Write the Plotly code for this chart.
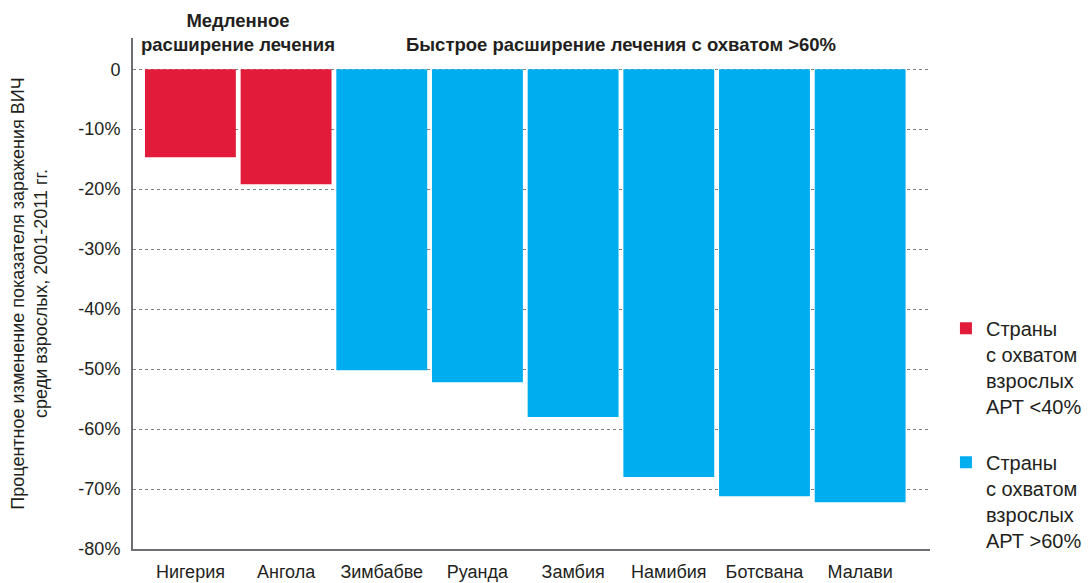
import plotly.graph_objects as go

# data
countries = ["Нигерия", "Ангола", "Зимбабве", "Руанда",
             "Замбия", "Намибия", "Ботсвана", "Малави"]
slow_countries = countries[:2]
slow_values = [-14.7, -19.2]
fast_countries = countries[2:]
fast_values = [-50.2, -52.2, -58.0, -68.0, -71.2, -72.2]
y_ticks = [0, -10, -20, -30, -40, -50, -60, -70, -80]
y_tick_labels = ["0", "-10%", "-20%", "-30%", "-40%",
                 "-50%", "-60%", "-70%", "-80%"]

RED = "#E31B3A"
BLUE = "#00AEEF"
TEXT = "#231F20"
FONT = "Liberation Sans, Arial, sans-serif"

fig = go.Figure()
fig.add_trace(go.Bar(
    x=slow_countries, y=slow_values,
    name="Страны<br>с охватом<br>взрослых<br>АРТ <40%",
    legendgroup="slow",
    marker_color=RED, marker_line_width=0, width=0.95
))
fig.add_trace(go.Bar(
    x=fast_countries, y=fast_values,
    name="Страны<br>с охватом<br>взрослых<br>АРТ >60%",
    legendgroup="fast",
    marker_color=BLUE, marker_line_width=0, width=0.95
))

# the page body adds an 8px offset, margins compensate for it
fig.update_layout(
    width=1091, height=583,
    margin=dict(l=125, r=169, t=30, b=42),
    paper_bgcolor="white", plot_bgcolor="white",
    barmode="overlay",
    font=dict(family=FONT, size=18, color=TEXT),
    showlegend=True,
    legend=dict(x=1.02, y=0.47, xanchor="left", yanchor="top",
                valign="top", tracegroupgap=27,
                font=dict(size=20, color=TEXT)),
)

# group headers above the bars
fig.add_annotation(text="<b>Медленное<br>расширение лечения</b>",
                   x=0.5, y=2.0, xref="x", yref="y",
                   yanchor="bottom", showarrow=False,
                   font=dict(size=18.5, color=TEXT))
fig.add_annotation(text="<b>Быстрое расширение лечения с охватом >60%</b>",
                   x=4.5, y=2.0, xref="x", yref="y",
                   yanchor="bottom", showarrow=False,
                   font=dict(size=18.5, color=TEXT))

fig.update_xaxes(
    range=[-0.6, 7.73], automargin=False,
    showline=True, linecolor="#6D6E71", linewidth=2,
    showgrid=False, ticks="", ticklabelstandoff=5,
    tickfont=dict(size=18, color=TEXT)
)
fig.update_yaxes(
    range=[-80, 5.2], automargin=False,
    tickvals=y_ticks, ticktext=y_tick_labels,
    showline=True, linecolor="#6D6E71", linewidth=2,
    showgrid=True, gridcolor="#808080", griddash="dot", gridwidth=1,
    zeroline=False, ticks="", ticklen=0, ticklabelstandoff=7,
    tickfont=dict(size=18, color=TEXT),
    title=dict(text="Процентное изменение показателя заражения ВИЧ<br>"
                    "среди взрослых, 2001-2011 гг.",
               font=dict(size=18, color=TEXT), standoff=30)
)

fig.write_html("out.html")
